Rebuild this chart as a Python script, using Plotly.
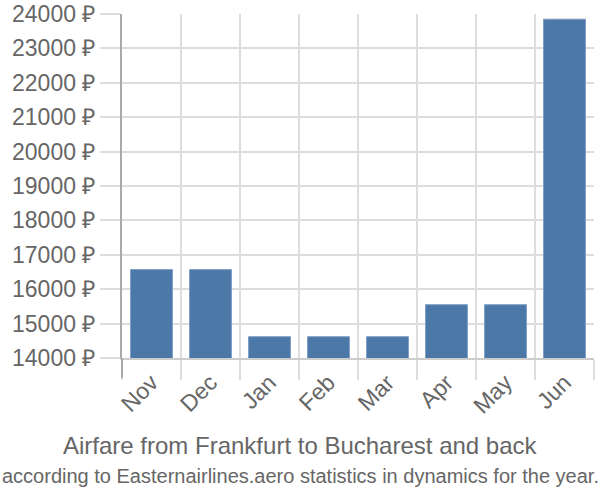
import plotly.graph_objects as go

months = ["Nov", "Dec", "Jan", "Feb", "Mar", "Apr", "May", "Jun"]
prices = [16570, 16570, 14620, 14620, 14620, 15550, 15550, 23850]
y_ticks = list(range(14000, 24001, 1000))
y_labels = [f"{v} ₽" for v in y_ticks]

grid = "#dddddd"
txt = "#666666"
font = "Liberation Sans"

fig = go.Figure(go.Bar(
    x=months, y=prices, base=0,
    marker=dict(color="#4c78a8", line=dict(color="#7d9fc6", width=1)),
))
fig.update_layout(
    width=600, height=500,
    margin=dict(l=122, r=6, t=14, b=142),
    plot_bgcolor="white", paper_bgcolor="white",
    bargap=0.29, showlegend=False,
    font=dict(family=font, color=txt, size=23),
    xaxis=dict(
        automargin=False,
        showgrid=True, gridcolor=grid, gridwidth=2,
        tickson="boundaries", ticks="outside", ticklen=20, tickwidth=2, tickcolor=grid,
        tickangle=-45, tickfont=dict(size=23, color=txt),
        showline=True, linecolor="#cccccc", linewidth=2,
    ),
    yaxis=dict(
        automargin=False,
        range=[14000, 24000],
        tickvals=y_ticks, ticktext=y_labels,
        showgrid=True, gridcolor=grid, gridwidth=2,
        ticks="outside", ticklen=20, tickwidth=2, tickcolor=grid,
        tickfont=dict(size=23, color=txt),
        showline=True, linecolor="#aaaaaa", linewidth=2,
        zeroline=False,
    ),
    shapes=[dict(type="line", xref="paper", yref="paper", x0=0, x1=0, y0=0, y1=-0.058,
                 line=dict(color="#aaaaaa", width=2))],
    annotations=[
        dict(text="Airfare from Frankfurt to Bucharest and back", xref="paper", yref="paper",
             x=0.5, y=0, xanchor="center", yanchor="middle", showarrow=False,
             font=dict(size=24, color=txt, family=font), yshift=-87, xshift=-58),
        dict(text="according to Easternairlines.aero statistics in dynamics for the year.",
             xref="paper", yref="paper", x=0.5, y=0, xanchor="center", yanchor="middle",
             showarrow=False, font=dict(size=20, color=txt, family=font), yshift=-118, xshift=-58),
    ],
)
fig.write_html("out.html")
